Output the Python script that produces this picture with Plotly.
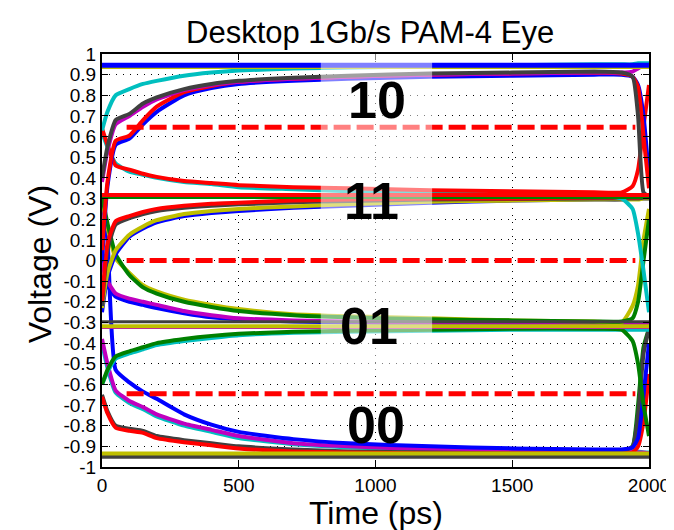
import plotly.graph_objects as go

# ---------------- data ----------------
# common time grid (ps) for the eye traces
T = [0, 20, 50, 100, 150, 200, 300, 400, 500, 700, 900, 1200, 1500, 1800, 1900, 1940, 1960, 1980, 2000]
FLAT_T = [0, 2000]

# upper eye: transitions into the "10" level (~0.95 V)
cyan_up = [0.63, 0.72, 0.80, 0.83, 0.855, 0.87, 0.895, 0.91, 0.92, 0.93, 0.935, 0.94, 0.945, 0.95, 0.95, 0.95, 0.955, 0.955, 0.955]
gray_up = [0.40, 0.55, 0.68, 0.71, 0.76, 0.79, 0.83, 0.855, 0.87, 0.885, 0.895, 0.905, 0.91, 0.915, 0.91, 0.89, 0.70, 0.33, 0.31]
magenta_up = [0.38, 0.53, 0.66, 0.70, 0.745, 0.78, 0.825, 0.85, 0.865, 0.88, 0.89, 0.90, 0.905, 0.91, 0.91, 0.915, 0.93, 0.945, 0.95]
red_up = [0.05, 0.38, 0.58, 0.605, 0.68, 0.745, 0.815, 0.845, 0.865, 0.88, 0.89, 0.90, 0.905, 0.91, 0.905, 0.89, 0.84, 0.60, 0.35]
blue_up = [0.00, 0.36, 0.56, 0.59, 0.66, 0.72, 0.80, 0.835, 0.855, 0.87, 0.88, 0.89, 0.895, 0.90, 0.90, 0.89, 0.85, 0.70, 0.40]

# upper eye: transitions down into the "11" level (~0.31 V)
red_dn = [0.64, 0.56, 0.46, 0.44, 0.42, 0.405, 0.385, 0.375, 0.365, 0.355, 0.35, 0.34, 0.335, 0.33, 0.33, 0.36, 0.44, 0.65, 0.85]
cyan_dn = [0.62, 0.55, 0.47, 0.43, 0.415, 0.40, 0.38, 0.37, 0.355, 0.345, 0.335, 0.325, 0.32, 0.315, 0.30, 0.25, 0.13, -0.05, -0.25]

# middle eye: rising into "11"
red_mid_up = [-0.20, 0.08, 0.19, 0.215, 0.235, 0.25, 0.265, 0.275, 0.28, 0.29, 0.295, 0.30, 0.30, 0.305, 0.305, 0.305, 0.305, 0.31, 0.31]
green_mid_up = [-0.22, 0.05, 0.175, 0.205, 0.225, 0.24, 0.255, 0.265, 0.272, 0.282, 0.288, 0.295, 0.298, 0.30, 0.30, 0.30, 0.30, 0.305, 0.305]
blue_mid_up = [-0.25, -0.08, 0.03, 0.115, 0.155, 0.185, 0.215, 0.23, 0.24, 0.255, 0.265, 0.28, 0.29, 0.295, 0.295, 0.30, 0.30, 0.30, 0.30]
olive_mid_up = [-0.23, -0.06, 0.05, 0.125, 0.165, 0.195, 0.225, 0.24, 0.25, 0.262, 0.272, 0.285, 0.29, 0.295, 0.295, 0.295, 0.295, 0.30, 0.30]

# middle eye: falling into "01" (~-0.31 V)
green_mid_dn = [0.31, 0.18, 0.03, -0.07, -0.13, -0.16, -0.20, -0.225, -0.245, -0.265, -0.275, -0.285, -0.29, -0.295, -0.295, -0.28, -0.20, 0.00, 0.20]
olive_mid_dn = [0.30, 0.16, 0.01, -0.06, -0.12, -0.15, -0.19, -0.215, -0.235, -0.26, -0.27, -0.28, -0.29, -0.295, -0.30, -0.22, -0.12, 0.10, 0.25]
magenta_mid_dn = [-0.01, -0.10, -0.16, -0.185, -0.20, -0.215, -0.245, -0.265, -0.28, -0.29, -0.295, -0.30, -0.30, -0.305, -0.305, -0.305, -0.31, -0.31, -0.31]
blue_mid_dn = [0.02, -0.12, -0.175, -0.20, -0.215, -0.23, -0.255, -0.275, -0.285, -0.295, -0.30, -0.305, -0.305, -0.31, -0.31, -0.31, -0.31, -0.31, -0.31]

# lower eye: rising into "01"
green_lo_up = [-0.60, -0.53, -0.465, -0.44, -0.42, -0.40, -0.38, -0.365, -0.355, -0.345, -0.34, -0.335, -0.33, -0.33, -0.335, -0.39, -0.50, -0.70, -0.85]
cyan_lo_up = [-0.60, -0.54, -0.475, -0.45, -0.43, -0.41, -0.39, -0.375, -0.362, -0.35, -0.345, -0.34, -0.335, -0.335, -0.335, -0.335, -0.335, -0.335, -0.335]

# lower eye: falling into "00" (~-0.94 V)
blue_lo_dn = [0.30, 0.10, -0.53, -0.59, -0.635, -0.67, -0.745, -0.795, -0.83, -0.865, -0.885, -0.90, -0.91, -0.915, -0.915, -0.905, -0.86, -0.65, -0.40]
magenta_lo_dn = [-0.38, -0.50, -0.63, -0.68, -0.71, -0.745, -0.79, -0.82, -0.85, -0.885, -0.90, -0.915, -0.92, -0.925, -0.925, -0.925, -0.93, -0.93, -0.935]
cyan_lo_dn = [-0.40, -0.52, -0.64, -0.69, -0.72, -0.755, -0.80, -0.83, -0.86, -0.89, -0.905, -0.915, -0.92, -0.925, -0.925, -0.925, -0.925, -0.93, -0.93]
red_lo_dn = [-0.66, -0.74, -0.81, -0.825, -0.835, -0.86, -0.88, -0.895, -0.91, -0.925, -0.93, -0.935, -0.935, -0.935, -0.935, -0.93, -0.90, -0.78, -0.55]
gray_lo_dn = [-0.65, -0.73, -0.80, -0.815, -0.825, -0.85, -0.87, -0.885, -0.90, -0.915, -0.925, -0.93, -0.935, -0.935, -0.925, -0.90, -0.75, -0.45, -0.33]
green_lo_bot = [-0.94, -0.94, -0.94, -0.94, -0.94, -0.94, -0.94, -0.94, -0.94, -0.94, -0.94, -0.94, -0.94, -0.935, -0.93, -0.90, -0.70, -0.42, -0.33]

# steady (repeated-symbol) levels, drawn across the whole UI
top_blue = [0.945, 0.945]
top_olive = [0.935, 0.935]
mid_green_flat = [0.305, 0.305]
mid_red_flat = [0.317, 0.317]
lo_gray_flat = [-0.297, -0.297]
lo_magenta_flat = [-0.325, -0.325]
lo_olive_flat = [-0.318, -0.318]
bot_gray_flat = [-0.95, -0.95]
bot_olive_flat = [-0.935, -0.935]

# decision thresholds (red dashed)
thr_levels = [0.645, 0.0, -0.645]
thr_t = [90, 1950]

# symbol labels
level_labels = ["10", "11", "01", "00"]

# axis ticks
x_ticks = [0, 500, 1000, 1500, 2000]
x_tick_text = ["0", "500", "1000", "1500", "2000"]
y_ticks = [-1, -0.9, -0.8, -0.7, -0.6, -0.5, -0.4, -0.3, -0.2, -0.1, 0,
           0.1, 0.2, 0.3, 0.4, 0.5, 0.6, 0.7, 0.8, 0.9, 1]
y_tick_text = ["-1", "-0.9", "-0.8", "-0.7", "-0.6", "-0.5", "-0.4", "-0.3", "-0.2", "-0.1", "0",
               "0.1", "0.2", "0.3", "0.4", "0.5", "0.6", "0.7", "0.8", "0.9", "1"]

# ---------------- styling ----------------
B = "rgb(0,0,255)"
G = "rgb(0,128,0)"
R = "rgb(255,0,0)"
C = "rgb(0,191,191)"
M = "rgb(191,0,191)"
Y = "rgb(191,191,0)"
K = "rgb(64,64,64)"

fig = go.Figure()


def add(y, color, width=4, x=T, dash=None, shape="spline"):
    fig.add_trace(go.Scatter(
        x=x, y=y, mode="lines",
        line=dict(color=color, width=width, dash=dash, shape=shape, smoothing=0.5),
        hoverinfo="skip", showlegend=False))


# transition traces
for y, c in [
    (green_lo_bot, G),
    (cyan_lo_dn, C), (magenta_lo_dn, M), (gray_lo_dn, K), (red_lo_dn, R), (blue_lo_dn, B),
    (cyan_lo_up, C), (green_lo_up, G),
    (blue_mid_dn, B), (magenta_mid_dn, M), (olive_mid_dn, Y), (green_mid_dn, G),
    (blue_mid_up, B), (olive_mid_up, Y), (green_mid_up, K), (red_mid_up, R),
    (cyan_dn, C), (red_dn, R),
    (blue_up, B), (red_up, R), (magenta_up, M), (gray_up, K), (cyan_up, C),
]:
    add(y, c)

# steady levels
add(top_olive, Y, 3, FLAT_T, shape="linear")
add(top_blue, B, 5, FLAT_T, shape="linear")
add(mid_green_flat, G, 3, FLAT_T, shape="linear")
add(mid_red_flat, R, 4, FLAT_T, shape="linear")
add(lo_gray_flat, K, 3, FLAT_T, shape="linear")
add(lo_magenta_flat, M, 3, FLAT_T, shape="linear")
add(lo_olive_flat, Y, 4, FLAT_T, shape="linear")
add(bot_gray_flat, K, 4, FLAT_T, shape="linear")
add(bot_olive_flat, Y, 4, FLAT_T, shape="linear")

# thresholds
for lv in thr_levels:
    add([lv, lv], R, 5, thr_t, dash="17px,6px", shape="linear")

axis_common = dict(
    ticks="inside", ticklen=6, tickwidth=1, tickcolor="black",
    showline=True, linecolor="black", linewidth=2, mirror="ticks",
    showgrid=True, gridcolor="black", gridwidth=1, griddash="1px,6px",
    zeroline=False, tickfont=dict(size=19, color="black"), automargin=False,
)

# the page body adds an 8px offset, so the figure is sized to fit the 674x530 window
fig.update_layout(
    width=666, height=522,
    margin=dict(l=94, r=25, t=46, b=63),
    paper_bgcolor="white", plot_bgcolor="white",
    font=dict(family="Liberation Sans, Arial, sans-serif", color="black"),
    showlegend=False,
    xaxis=dict(range=[0, 2000], tickvals=x_ticks, ticktext=x_tick_text, **axis_common),
    yaxis=dict(range=[-1, 1], tickvals=y_ticks, ticktext=y_tick_text, **axis_common),
)

# semi-transparent white panels behind the symbol labels
fig.add_shape(type="rect", xref="x", yref="y", x0=800, x1=1207, y0=0.05, y1=1.0,
              fillcolor="rgba(255,255,255,0.5)", line=dict(width=0), layer="above")
fig.add_shape(type="rect", xref="x", yref="y", x0=800, x1=1207, y0=-0.555, y1=-0.02,
              fillcolor="rgba(255,255,255,0.5)", line=dict(width=0), layer="above")

label_pos = [(1005, 0.777), (984, 0.29), (977, -0.317), (1002, -0.797)]
for txt, (lx, ly) in zip(level_labels, label_pos):
    fig.add_annotation(x=lx, y=ly, xref="x", yref="y", text=txt, showarrow=False,
                       xanchor="center", yanchor="middle",
                       font=dict(size=52, color="black", family="Liberation Sans, Arial, sans-serif", weight="bold"))

# title and axis titles
fig.add_annotation(x=0.49, y=1.053, xref="paper", yref="paper", text="Desktop 1Gb/s PAM-4 Eye",
                   showarrow=False, xanchor="center", yanchor="middle", font=dict(size=31))
fig.add_annotation(x=0.5, y=-0.111, xref="paper", yref="paper", text="Time (ps)",
                   showarrow=False, xanchor="center", yanchor="middle", font=dict(size=32))
fig.add_annotation(x=-0.114, y=0.49, xref="paper", yref="paper", text="Voltage (V)", textangle=-90,
                   showarrow=False, xanchor="center", yanchor="middle", font=dict(size=32))

fig.write_html("out.html")
